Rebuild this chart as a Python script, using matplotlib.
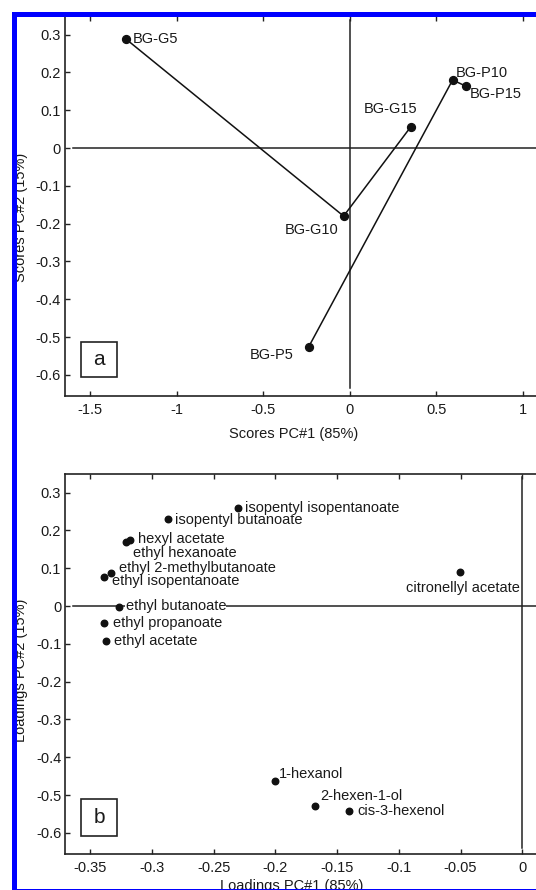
import matplotlib
matplotlib.use("Agg")
import matplotlib.pyplot as plt
from matplotlib.patches import Rectangle
from matplotlib.ticker import FixedLocator, FixedFormatter

plt.rcParams['font.family'] = ['Liberation Sans', 'DejaVu Sans']
plt.rcParams['axes.unicode_minus'] = False

# ---------------- data ----------------
# Panel a: scores
score_names = ["BG-G5", "BG-G10", "BG-G15", "BG-P5", "BG-P10", "BG-P15"]
score_pc1 = [-1.292, -0.035, 0.353, -0.237, 0.595, 0.670]
score_pc2 = [0.288, -0.180, 0.056, -0.526, 0.180, 0.164]
series_g = ["BG-G5", "BG-G10", "BG-G15"]
series_p = ["BG-P5", "BG-P10", "BG-P15"]

# Panel b: loadings
load_names = ["isopentyl isopentanoate", "isopentyl butanoate", "hexyl acetate",
              "ethyl hexanoate", "ethyl 2-methylbutanoate", "ethyl isopentanoate",
              "ethyl butanoate", "ethyl propanoate", "ethyl acetate",
              "citronellyl acetate", "1-hexanol", "2-hexen-1-ol", "cis-3-hexenol"]
load_pc1 = [-0.230, -0.287, -0.318, -0.321, -0.333, -0.339,
            -0.327, -0.339, -0.337, -0.0505, -0.2006, -0.168, -0.140]
load_pc2 = [0.259, 0.230, 0.175, 0.169, 0.087, 0.077,
            -0.003, -0.045, -0.093, 0.090, -0.463, -0.529, -0.542]

a_xticks = [-1.5, -1, -0.5, 0, 0.5, 1]
a_xticklabels = ["-1.5", "-1", "-0.5", "0", "0.5", "1"]
b_xticks = [-0.35, -0.3, -0.25, -0.2, -0.15, -0.1, -0.05, 0]
b_xticklabels = ["-0.35", "-0.3", "-0.25", "-0.2", "-0.15", "-0.1", "-0.05", "0"]
yticks = [0.3, 0.2, 0.1, 0, -0.1, -0.2, -0.3, -0.4, -0.5, -0.6]
yticklabels = ["0.3", "0.2", "0.1", "0", "-0.1", "-0.2", "-0.3", "-0.4", "-0.5", "-0.6"]

# ---------------- layout (pixels) ----------------
score_offsets = {
    "BG-G5": (7, 0, "left"),
    "BG-G10": (-5, -14, "right"),
    "BG-G15": (-20, 18, "center"),
    "BG-P5": (-15, -8, "right"),
    "BG-P10": (3, 7, "left"),
    "BG-P15": (4, -8, "left"),
}
load_offsets = {
    "isopentyl isopentanoate": (7, 0, "left"),
    "isopentyl butanoate": (7, -1, "left"),
    "hexyl acetate": (8, 1, "left"),
    "ethyl hexanoate": (7, -11, "left"),
    "ethyl 2-methylbutanoate": (8, 5, "left"),
    "ethyl isopentanoate": (8, -4, "left"),
    "ethyl butanoate": (7, 1, "left"),
    "ethyl propanoate": (9, 0, "left"),
    "ethyl acetate": (8, 0, "left"),
    "citronellyl acetate": (3, -16, "center"),
    "1-hexanol": (4, 7, "left"),
    "2-hexen-1-ol": (5, 10, "left"),
    "cis-3-hexenol": (8, 0, "left"),
}

W, H = 536, 890
fig = plt.figure(figsize=(W / 100, H / 100), dpi=100)
fig.patch.set_facecolor("white")

FS = 10.5
TXT = "#1a1a1a"


def px_axes(left, top, right, bottom):
    return fig.add_axes([left / W, 1 - bottom / H, (right - left) / W, (bottom - top) / H])


def style(ax, xticks, xlabels):
    ax.xaxis.set_major_locator(FixedLocator(xticks))
    ax.xaxis.set_major_formatter(FixedFormatter(xlabels))
    ax.yaxis.set_major_locator(FixedLocator(yticks))
    ax.yaxis.set_major_formatter(FixedFormatter(yticklabels))
    ax.tick_params(direction="in", length=3.5, width=1.0, top=True, right=False,
                   labelsize=FS, colors="#222222", labelcolor=TXT)
    ax.tick_params(axis="x", pad=5)
    ax.tick_params(axis="y", pad=3)
    for s in ax.spines.values():
        s.set_linewidth(1.2)
        s.set_color("#222222")


# ---------------- panel a ----------------
axa = px_axes(65, 15.7, 540, 395.7)
axa.set_xlim(-1.645, 1.1)
axa.set_ylim(-0.655, 0.35)
style(axa, a_xticks, a_xticklabels)
axa.axhline(0, xmin=0.017, xmax=1, color="#222222", lw=1.1, zorder=1)
axa.axvline(0, ymin=0.02, ymax=0.99, color="#222222", lw=1.1, zorder=1)

for ser in (series_g, series_p):
    xs = [score_pc1[score_names.index(n)] for n in ser]
    ys = [score_pc2[score_names.index(n)] for n in ser]
    axa.plot(xs, ys, color="#111111", lw=1.1, zorder=2)
axa.scatter(score_pc1, score_pc2, s=32, color="#111111", zorder=3)
for n, x, y in zip(score_names, score_pc1, score_pc2):
    dx, dy, ha = score_offsets[n]
    axa.annotate(n, (x, y), xytext=(dx, dy), textcoords="offset pixels",
                 ha=ha, va="center", fontsize=FS, color=TXT, zorder=4)

axa.set_xlabel("Scores PC#1 (85%)", fontsize=FS, color=TXT)
axa.xaxis.set_label_coords(0.482, -0.082)
axa.set_ylabel("Scores PC#2 (15%)", fontsize=FS, color=TXT)
axa.yaxis.set_label_coords(-0.078, 0.47)

axa.add_patch(Rectangle((0.0337, 0.049), 0.0758, 0.092, transform=axa.transAxes,
                        fill=False, edgecolor="#222222", lw=1.2, zorder=5))
axa.text(0.0716, 0.095, "a", transform=axa.transAxes, ha="center", va="center",
         fontsize=15, color=TXT, zorder=5)

# ---------------- panel b ----------------
axb = px_axes(65.4, 473.7, 541, 853.6)
axb.set_xlim(-0.37, 0.0151)
axb.set_ylim(-0.655, 0.35)
style(axb, b_xticks, b_xticklabels)
axb.axhline(0, xmin=0.016, xmax=1, color="#222222", lw=1.1, zorder=1)
axb.axvline(0, ymin=0.015, ymax=0.991, color="#222222", lw=1.1, zorder=1)

axb.scatter(load_pc1, load_pc2, s=22, color="#111111", zorder=3)
for n, x, y in zip(load_names, load_pc1, load_pc2):
    dx, dy, ha = load_offsets[n]
    kw = {}
    if n == "ethyl butanoate":
        kw["bbox"] = dict(facecolor="white", edgecolor="none", pad=0.3)
    axb.annotate(n, (x, y), xytext=(dx, dy), textcoords="offset pixels",
                 ha=ha, va="center", fontsize=FS, color=TXT, zorder=4, **kw)

axb.set_xlabel("Loadings PC#1 (85%)", fontsize=FS, color=TXT)
axb.xaxis.set_label_coords(0.476, -0.068)
axb.set_ylabel("Loadings PC#2 (15%)", fontsize=FS, color=TXT)
axb.yaxis.set_label_coords(-0.079, 0.483)

axb.add_patch(Rectangle((0.0329, 0.046), 0.0759, 0.098, transform=axb.transAxes,
                        fill=False, edgecolor="#222222", lw=1.2, zorder=5))
axb.text(0.0708, 0.095, "b", transform=axb.transAxes, ha="center", va="center",
         fontsize=15, color=TXT, zorder=5)

# ---------------- blue selection frame ----------------
frame = Rectangle((13.5 / W, 1 - 890.5 / H), (560 - 13.5) / W, (890.5 - 14) / H,
                  transform=fig.transFigure, fill=False, edgecolor="#0000ff",
                  lw=5 * 72 / 100, zorder=20, clip_on=False)
fig.add_artist(frame)

fig.savefig("out.png", dpi=100)
